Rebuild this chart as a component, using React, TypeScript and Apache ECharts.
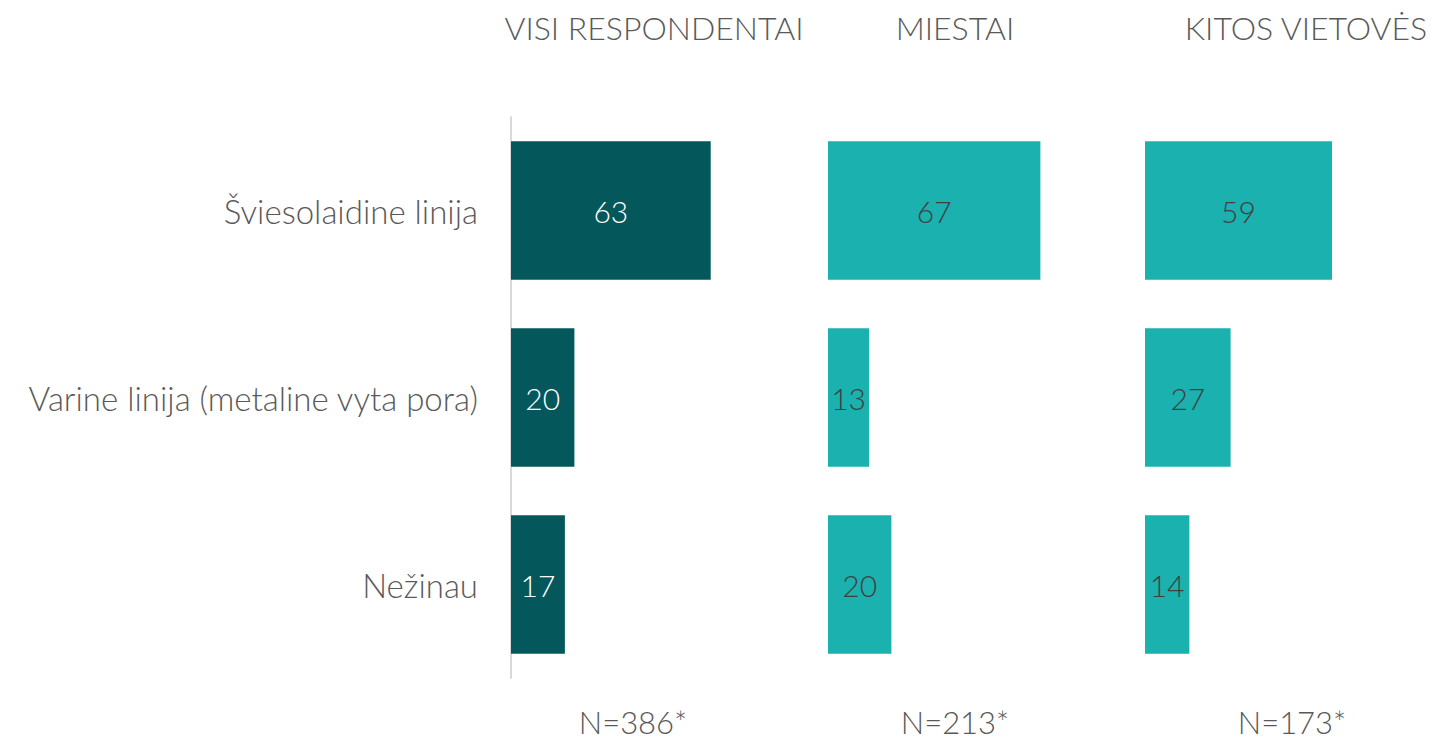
import React, { useEffect, useRef } from "react";
import * as echarts from "echarts";

const categories = ["Šviesolaidine linija", "Varine linija (metaline vyta pora)", "Nežinau"];
const panelTitles = ["VISI RESPONDENTAI", "MIESTAI", "KITOS VIETOVĖS"];
const sampleSizes = ["N=386*", "N=213*", "N=173*"];
const visiValues = [63, 20, 17];
const miestaiValues = [67, 13, 20];
const kitosValues = [59, 27, 14];

const FONT = "'Segoe UI Light', Lato, 'Open Sans', sans-serif";
const DARK = "#04575B";
const LIGHT = "#1BB1AE";

export default function App() {
  const ref = useRef<HTMLDivElement>(null);
  useEffect(() => {
    if (!ref.current) return;
    const chart = echarts.init(ref.current, null, { renderer: "svg" });
    const panels = [visiValues, miestaiValues, kitosValues];
    const left0 = 511;
    const step = 317;
    const gw = 280;
    const pxPerUnit = 3.17;
    const grids = panels.map((_, i) => ({
      left: left0 + step * i,
      top: 117,
      height: 561,
      width: gw,
      containLabel: false,
    }));
    const xAxes = panels.map((_, i) => ({
      type: "value",
      gridIndex: i,
      min: 0,
      max: gw / pxPerUnit,
      show: false,
    }));
    const yAxes = panels.map((_, i) => ({
      type: "category",
      gridIndex: i,
      data: categories,
      inverse: true,
      axisLine: { show: i === 0, lineStyle: { color: "#D9D9D9", width: 2 } },
      axisTick: { show: false },
      axisLabel: {
        show: i === 0,
        margin: 33,
        fontSize: 33,
        fontFamily: FONT,
        fontWeight: 300,
        color: "#595959",
      },
      splitLine: { show: false },
    }));
    const series = panels.map((vals, i) => ({
      type: "bar",
      xAxisIndex: i,
      yAxisIndex: i,
      data: vals,
      barCategoryGap: "26%",
      itemStyle: { color: i === 0 ? DARK : LIGHT },
      label: {
        show: true,
        position: "inside",
        fontSize: 30,
        fontFamily: FONT,
        fontWeight: 300,
        color: i === 0 ? "#FFFFFF" : "#404040",
      },
    }));
    const titleCenters = [654, 955, 1306];
    const nCenters = [633, 955, 1292];
    const graphic: any[] = [];
    panelTitles.forEach((t, i) => {
      graphic.push({
        type: "text",
        x: titleCenters[i],
        y: 27,
        style: {
          text: t,
          fill: "#595959",
          font: `300 32px ${FONT}`,
          align: "center",
          verticalAlign: "middle",
        },
      });
    });
    sampleSizes.forEach((t, i) => {
      graphic.push({
        type: "text",
        x: nCenters[i],
        y: 722,
        style: {
          text: t,
          fill: "#595959",
          font: `300 31px ${FONT}`,
          align: "center",
          verticalAlign: "middle",
        },
      });
    });
    chart.setOption({
      animation: false,
      backgroundColor: "#FFFFFF",
      grid: grids,
      xAxis: xAxes,
      yAxis: yAxes,
      series,
      graphic,
    });
    return () => chart.dispose();
  }, []);
  return (
    <div
      ref={ref}
      style={{ position: "fixed", left: 0, top: 0, width: 1432, height: 741 }}
    />
  );
}
